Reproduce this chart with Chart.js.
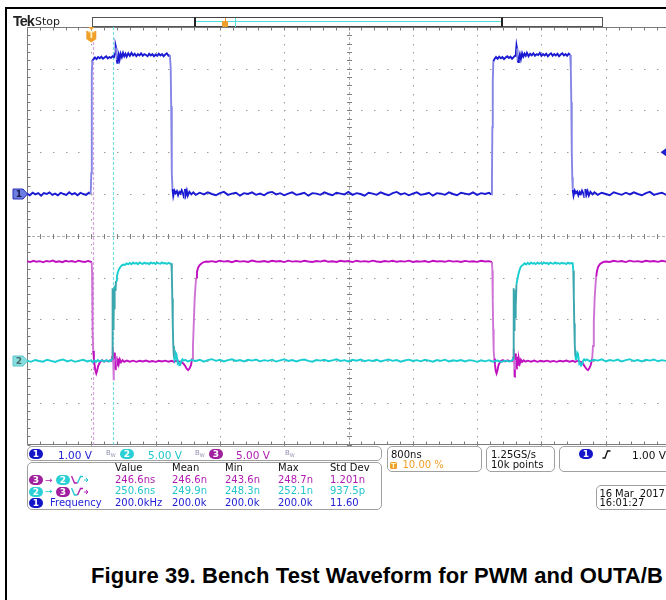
<!DOCTYPE html>
<html><head><meta charset="utf-8">
<script src="https://cdn.jsdelivr.net/npm/chart.js@4.4.1/dist/chart.umd.min.js"></script>
<style>
html,body{margin:0;padding:0;width:666px;height:600px;overflow:hidden;background:#fff;}
#wrap{position:absolute;left:0;top:0;width:690px;height:452px;z-index:1;}
.t{position:absolute;font-family:"DejaVu Sans",sans-serif;font-size:10px;line-height:12px;white-space:nowrap;z-index:2;}
.box{position:absolute;border:1px solid #a0a0a0;border-radius:5px;box-sizing:border-box;z-index:2;}
.pill{position:absolute;width:14px;height:10px;border-radius:5px;color:#fff;font:bold 9px/10px "DejaVu Sans",sans-serif;text-align:center;z-index:3;}
.bw{position:absolute;font:7px/8px "DejaVu Sans",sans-serif;color:#9090b0;z-index:2;}
.ln{position:absolute;background:#000;z-index:4;}
.blu{color:#2222d4}.cya{color:#22c6cc}.mag{color:#b01cb0}.blk{color:#111}.org{color:#f0a028}
</style></head>
<body>
<div class="ln" style="left:5px;top:7px;width:661px;height:2px;"></div>
<div class="ln" style="left:5px;top:8px;width:1.5px;height:592px;"></div>

<div style="position:absolute;left:13px;top:13px;font:bold 14.5px/16px 'Liberation Sans',sans-serif;letter-spacing:-1px;color:#222;z-index:2;">Tek</div>
<div style="position:absolute;left:35px;top:15.4px;font:11px/13px 'DejaVu Sans',sans-serif;color:#222;z-index:2;">Stop</div>

<!-- record overview -->
<div style="position:absolute;left:92px;top:17px;width:511px;height:10px;border:1px solid #555;box-sizing:border-box;background:#fff;z-index:2;"></div>
<div style="position:absolute;left:194px;top:17px;width:309px;height:10px;border:1px solid #444;border-left:2px solid #222;border-right:2px solid #222;box-sizing:border-box;z-index:3;"></div>
<div style="position:absolute;left:196px;top:21px;width:305px;height:1px;background:#55dede;z-index:3;"></div>
<div style="position:absolute;left:235px;top:18px;width:1px;height:9px;background:#55dede;z-index:3;"></div>
<div style="position:absolute;left:222px;top:21px;width:6px;height:6px;background:#f0a028;border-radius:1px;z-index:4;"></div>
<div style="position:absolute;left:224.5px;top:18px;width:1px;height:3px;background:#f0a028;z-index:4;"></div>

<div id="wrap"><canvas id="c" width="690" height="452"></canvas></div>

<!-- channel row -->
<div class="box" style="left:27px;top:446px;width:355px;height:15px;"></div>
<div class="pill" style="left:29px;top:449px;background:#1414c8;">1</div>
<div class="t blu" style="left:58px;top:449px;font-size:10.5px;">1.00 V</div>
<div class="bw" style="left:106px;top:449px;">B<sub style="font-size:5px">W</sub></div>
<div class="pill" style="left:120px;top:449px;background:#2ad0d6;">2</div>
<div class="t cya" style="left:148px;top:449px;font-size:10.5px;">5.00 V</div>
<div class="bw" style="left:195px;top:449px;">B<sub style="font-size:5px">W</sub></div>
<div class="pill" style="left:209px;top:449px;background:#a0209f;">3</div>
<div class="t mag" style="left:236px;top:449px;font-size:10.5px;">5.00 V</div>
<div class="bw" style="left:285px;top:449px;">B<sub style="font-size:5px">W</sub></div>

<!-- measurements -->
<div class="box" style="left:27px;top:462px;width:355px;height:48px;"></div>
<div class="t blk" style="left:115px;top:462.2px;">Value</div>
<div class="t blk" style="left:172px;top:462.2px;">Mean</div>
<div class="t blk" style="left:225px;top:462.2px;">Min</div>
<div class="t blk" style="left:278px;top:462.2px;">Max</div>
<div class="t blk" style="left:330px;top:462.2px;">Std Dev</div>

<div class="pill" style="left:29px;top:475px;background:#a0209f;">3</div>
<div class="t mag" style="left:45px;top:473.6px;font-size:9px;">→</div>
<div class="pill" style="left:56px;top:475px;background:#2ad0d6;">2</div>
<svg style="position:absolute;left:71px;top:475px;z-index:3" width="18" height="10"><path d="M0.5,1 L3.5,8 L6.5,8" stroke="#b01cb0" stroke-width="1.4" fill="none"/><path d="M6.5,8 L9.5,1.5 L12,1.5" stroke="#22c6cc" stroke-width="1.4" fill="none"/><path d="M13,5 L17,5 M15,3 L17,5 L15,7" stroke="#22c6cc" stroke-width="1" fill="none"/></svg>
<div class="t mag" style="left:115px;top:473.9px;">246.6ns</div>
<div class="t mag" style="left:172px;top:473.9px;">246.6n</div>
<div class="t mag" style="left:225px;top:473.9px;">243.6n</div>
<div class="t mag" style="left:278px;top:473.9px;">248.7n</div>
<div class="t mag" style="left:330px;top:473.9px;">1.201n</div>

<div class="pill" style="left:29px;top:486.5px;background:#2ad0d6;">2</div>
<div class="t cya" style="left:45px;top:485.1px;font-size:9px;">→</div>
<div class="pill" style="left:56px;top:486.5px;background:#a0209f;">3</div>
<svg style="position:absolute;left:71px;top:486.5px;z-index:3" width="18" height="10"><path d="M0.5,1 L3.5,8 L6.5,8" stroke="#22c6cc" stroke-width="1.4" fill="none"/><path d="M6.5,8 L9.5,1.5 L12,1.5" stroke="#b01cb0" stroke-width="1.4" fill="none"/><path d="M13,5 L17,5 M15,3 L17,5 L15,7" stroke="#b01cb0" stroke-width="1" fill="none"/></svg>
<div class="t cya" style="left:115px;top:485.4px;">250.6ns</div>
<div class="t cya" style="left:172px;top:485.4px;">249.9n</div>
<div class="t cya" style="left:225px;top:485.4px;">248.3n</div>
<div class="t cya" style="left:278px;top:485.4px;">252.1n</div>
<div class="t cya" style="left:330px;top:485.4px;">937.5p</div>

<div class="pill" style="left:29px;top:497.8px;background:#1414c8;">1</div>
<div class="t blu" style="left:50px;top:496.7px;">Frequency</div>
<div class="t blu" style="left:115px;top:496.7px;">200.0kHz</div>
<div class="t blu" style="left:172px;top:496.7px;">200.0k</div>
<div class="t blu" style="left:225px;top:496.7px;">200.0k</div>
<div class="t blu" style="left:278px;top:496.7px;">200.0k</div>
<div class="t blu" style="left:330px;top:496.7px;">11.60</div>

<!-- timebase / acquisition / trigger -->
<div class="box" style="left:387px;top:446px;width:95px;height:26px;"></div>
<div class="t blk" style="left:391px;top:448.9px;">800ns</div>
<div style="position:absolute;left:390px;top:461.5px;width:7px;height:7.5px;background:#f0a028;border-radius:1.5px;color:#fff3c8;font:bold 7px/8px 'DejaVu Sans',sans-serif;text-align:center;z-index:3;">T</div>
<div class="t org" style="left:402.5px;top:459.2px;">10.00 %</div>

<div class="box" style="left:486px;top:446px;width:69px;height:26px;"></div>
<div class="t blk" style="left:491px;top:448.9px;">1.25GS/s</div>
<div class="t blk" style="left:491px;top:459.2px;">10k points</div>

<div class="box" style="left:559px;top:446px;width:120px;height:26px;"></div>
<div class="pill" style="left:579px;top:449px;background:#1414c8;">1</div>
<svg style="position:absolute;left:602px;top:450px;z-index:3" width="9" height="9"><path d="M0.5,8 L3,8 L5.5,1 L8.5,1" stroke="#111" stroke-width="1.3" fill="none"/></svg>
<div class="t blk" style="left:632px;top:449px;font-size:10.5px;">1.00 V</div>

<div class="box" style="left:596px;top:485px;width:80px;height:24.5px;"></div>
<div class="t blk" style="left:599.5px;top:487.5px;letter-spacing:-0.1px;">16 Mar&nbsp; 2017</div>
<div class="t blk" style="left:599.5px;top:496.9px;">16:01:27</div>

<div style="position:absolute;left:91px;top:563px;font:bold 22px/26px 'Liberation Sans',Arial,sans-serif;letter-spacing:0.08px;color:#000;white-space:nowrap;">Figure 39. Bench Test Waveform for PWM and OUTA/B</div>

<script>
// ---- scope settings ----
const timePerDivNs = 800;
const timeStartNs = -800;
const timeEndNs = 7200;
const voltsPerDiv = [1.0, 5.0, 5.0];     // CH1, CH2, CH3
const groundDiv = [1, -3, -3];           // ground marker offsets (divisions)
const triggerLevelV = 1.0;               // CH1 trigger level
const cursorTimesNs = [17, 266];         // measurement edge cursors (CH3 fall, CH2 rise)

// ---- CH1 (PWM input) [time ns, volts] ----
const ch1 = [
[-800,0.01],[-765,-0.03],[-730,0.03],[-695,-0.01],[-660,0.02],[-625,-0.04],[-590,0.02],[-555,0.00],[-520,0.04],[-485,-0.02],[-450,0.01],[-415,-0.03],[-380,0.03],[-345,0.00],[-310,-0.02],[-275,0.04],[-240,-0.01],[-205,0.02],[-170,-0.03],[-135,0.03],[-100,0.00],[-65,-0.02],[-30,0.03],[-8,0.00],
[0,0.5],[4,1.8],[8,2.9],[13,3.2],
[25,3.22],[45,3.27],[65,3.23],[85,3.28],[105,3.25],[125,3.29],[145,3.24],[165,3.27],[185,3.30],[205,3.25],[225,3.28],[245,3.26],[265,3.30],[282,3.28],
[295,3.36],[303,3.55],[309,3.50],[316,3.22],[323,3.14],[330,3.24],[340,3.34],[352,3.22],[365,3.36],[380,3.28],[395,3.38],[410,3.30],[425,3.36],[440,3.29],[460,3.37],[480,3.31],[500,3.38],[520,3.32],[540,3.36],[560,3.30],[580,3.35],[600,3.32],[620,3.37],[640,3.31],[660,3.35],[680,3.33],[700,3.30],[720,3.36],[740,3.32],[760,3.35],[780,3.30],[800,3.34],[820,3.31],[840,3.36],[860,3.32],[880,3.35],[900,3.30],[920,3.34],[940,3.37],[960,3.31],[978,3.33],
[988,3.0],[994,2.1],[999,1.2],[1004,0.5],[1010,0.12],[1020,-0.05],[1035,0.08],[1050,0.02],[1065,0.07],[1080,-0.03],[1095,0.05],[1110,0.01],[1125,0.09],[1140,0.03],[1155,-0.10],[1165,0.12],[1175,-0.02],[1188,0.08],[1200,-0.04],[1220,0.05],[1245,-0.01],[1270,0.04],
[1300,-0.02],[1350,0.03],[1400,-0.01],[1450,0.04],[1500,0.00],[1550,-0.03],[1600,0.02],[1650,0.05],[1700,-0.02],[1750,0.01],[1800,0.03],[1850,-0.04],[1900,0.02],[1950,0.00],[2000,0.04],[2050,-0.02],[2100,0.01],[2150,-0.03],[2200,0.03],[2250,0.05],[2300,-0.01],[2350,0.02],[2400,-0.03],[2450,0.01],[2500,0.04],[2550,-0.02],[2600,0.00],[2650,0.03],[2700,-0.04],[2750,0.02],[2800,0.01],[2850,-0.02],[2900,0.04],[2950,0.00],[3000,-0.03],[3050,0.03],[3100,0.01],[3150,-0.01],[3200,0.05],[3250,-0.02],[3300,0.02],[3350,0.00],[3400,-0.04],[3450,0.03],[3500,0.01],[3550,-0.02],[3600,0.04],[3650,0.00],[3700,-0.03],[3750,0.02],[3800,0.05],[3850,-0.01],[3900,0.02],[3950,-0.03],[4000,0.01],[4050,0.04],[4100,-0.02],[4150,0.00],[4200,0.03],[4250,-0.04],[4300,0.02],[4350,0.01],[4400,-0.02],[4450,0.04],[4500,0.00],[4550,-0.03],[4600,0.03],[4650,0.01],[4700,-0.01],[4750,0.04],[4800,-0.02],[4850,0.02],[4900,0.00],[4950,0.03],[4975,-0.01],
[4985,0.4],[4990,1.6],[4995,2.7],[5002,3.18],
[5015,3.23],[5035,3.28],[5055,3.24],[5075,3.29],[5095,3.25],[5115,3.28],[5135,3.23],[5155,3.27],[5175,3.30],[5195,3.26],[5215,3.29],[5235,3.24],[5255,3.28],[5272,3.31],
[5283,3.40],[5290,3.56],[5297,3.48],[5304,3.20],[5312,3.16],[5320,3.26],[5332,3.35],[5345,3.23],[5360,3.37],[5375,3.29],[5390,3.36],[5405,3.31],[5420,3.38],[5440,3.30],[5460,3.36],[5480,3.32],[5500,3.37],[5520,3.31],[5540,3.35],[5560,3.33],[5580,3.38],[5600,3.31],[5620,3.35],[5640,3.32],[5660,3.36],[5680,3.30],[5700,3.34],[5720,3.37],[5740,3.31],[5760,3.35],[5780,3.32],[5800,3.36],[5820,3.30],[5840,3.34],[5860,3.37],[5880,3.32],[5900,3.35],[5920,3.31],[5940,3.36],[5958,3.33],
[5966,3.0],[5972,2.2],[5978,1.0],[5984,0.4],[5990,0.1],[6000,-0.04],[6015,0.08],[6030,0.02],[6045,0.06],[6060,-0.03],[6075,0.05],[6090,0.00],[6105,0.08],[6120,0.02],[6135,-0.09],[6148,0.12],[6160,-0.02],[6175,0.07],[6190,-0.04],[6210,0.05],[6235,-0.01],[6260,0.04],
[6300,-0.02],[6350,0.03],[6400,0.00],[6450,-0.03],[6500,0.04],[6550,0.01],[6600,-0.02],[6650,0.03],[6700,-0.01],[6750,0.04],[6800,0.00],[6850,-0.03],[6900,0.02],[6950,0.05],[7000,-0.02],[7050,0.01],[7100,0.03],[7150,-0.02],[7200,0.01]
];

// ---- CH2 (OUTA) [time ns, volts] ----
const ch2 = [
[-800,0.05],[-750,-0.10],[-700,0.12],[-650,0.00],[-600,-0.08],[-550,0.15],[-500,0.02],[-450,-0.12],[-400,0.08],[-350,0.18],[-300,-0.05],[-250,0.10],[-200,-0.10],[-150,0.05],[-100,0.14],[-50,-0.06],[0,0.08],[20,-0.15],[40,0.05],[60,-0.10],[80,0.12],[100,-0.04],[130,0.09],[160,-0.08],[190,0.10],[220,-0.05],[245,0.06],
[258,0.3],[262,5.5],[265,8.7],[268,4.2],[271,8.3],[274,3.7],[277,7.6],[280,4.8],[284,8.6],[288,6.2],[293,9.0],[300,8.4],[308,9.6],[318,10.1],[330,10.6],[345,11.0],[360,11.25],[380,11.45],[400,11.55],[420,11.5],[440,11.7],[460,11.6],[480,11.75],[500,11.6],
[520,11.8],[540,11.65],[560,11.75],[580,11.6],[600,11.8],[620,11.7],[640,11.62],[660,11.78],[680,11.66],[700,11.74],[720,11.6],[740,11.8],[760,11.68],[780,11.75],[800,11.62],[820,11.78],[840,11.7],[860,11.64],[880,11.8],[900,11.68],[920,11.74],[940,11.62],[960,11.76],[980,11.66],[996,11.7],
[1002,10.5],[1008,7.5],[1014,4.2],[1020,1.8],[1028,0.5],[1036,0.1],[1044,0.4],[1052,0.95],[1060,0.8],[1068,0.2],[1076,-0.3],[1086,-0.2],[1096,-0.5],[1108,-0.45],[1120,0.0],[1135,0.2],[1150,0.05],[1170,0.15],
[1200,-0.05],[1250,0.12],[1300,0.0],[1350,0.15],[1400,-0.08],[1450,0.10],[1500,0.22],[1550,0.02],[1600,0.14],[1650,-0.06],[1700,0.10],[1750,0.20],[1800,0.00],[1850,0.12],[1900,-0.05],[1950,0.15],[2000,0.05],[2050,0.18],[2100,-0.04],[2150,0.10],[2200,0.02],[2250,0.16],[2300,-0.07],[2350,0.08],[2400,0.20],[2450,0.00],[2500,0.12],[2550,-0.05],[2600,0.10],[2650,0.18],[2700,0.02],[2750,-0.08],[2800,0.12],[2850,0.05],[2900,0.15],[2950,-0.03],[3000,0.08],[3050,0.20],[3100,0.00],[3150,0.10],[3200,-0.06],[3250,0.14],[3300,0.04],[3350,0.18],[3400,-0.02],[3450,0.10],[3500,0.00],[3550,0.15],[3600,-0.05],[3650,0.08],[3700,0.18],[3750,0.02],[3800,0.12],[3850,-0.08],[3900,0.06],[3950,0.16],[4000,0.00],[4050,0.10],[4100,-0.04],[4150,0.14],[4200,0.05],[4250,-0.08],[4300,0.12],[4350,0.02],[4400,0.16],[4450,-0.05],[4500,0.08],[4550,0.00],[4600,0.12],[4650,-0.06],[4700,0.10],[4750,0.04],[4800,-0.10],[4850,0.08],[4900,-0.04],[4950,0.10],[5000,-0.08],[5050,0.06],[5100,-0.12],[5150,0.04],[5200,-0.06],[5240,0.08],
[5250,0.4],[5254,5.0],[5257,8.7],[5260,4.0],[5263,8.0],[5266,3.6],[5270,7.8],[5274,5.2],[5278,8.5],[5283,6.5],[5290,9.2],[5300,9.7],[5312,10.3],[5325,10.8],[5340,11.2],[5355,11.4],[5370,11.5],[5390,11.7],[5410,11.55],[5430,11.75],[5450,11.6],[5470,11.8],[5490,11.65],[5510,11.72],[5530,11.6],[5550,11.78],[5570,11.66],[5590,11.74],[5610,11.62],[5630,11.8],[5650,11.68],[5670,11.75],[5690,11.6],[5710,11.78],[5730,11.7],[5750,11.64],[5770,11.8],[5790,11.66],[5810,11.74],[5830,11.62],[5850,11.76],[5870,11.68],[5890,11.72],[5910,11.6],[5930,11.78],[5950,11.66],[5970,11.74],[5990,11.7],
[5997,10.8],[6003,7.8],[6009,4.5],[6015,2.0],[6022,0.6],[6030,0.1],[6038,0.5],[6046,1.0],[6055,0.85],[6064,0.2],[6072,-0.35],[6082,-0.25],[6094,-0.55],[6106,-0.4],[6118,0.0],[6132,0.2],[6148,0.05],[6165,0.18],
[6200,-0.02],[6250,0.15],[6300,0.05],[6350,0.20],[6400,-0.04],[6450,0.12],[6500,0.02],[6550,0.18],[6600,-0.06],[6650,0.10],[6700,0.22],[6750,0.00],[6800,0.12],[6850,-0.05],[6900,0.15],[6950,0.05],[7000,0.18],[7050,-0.03],[7100,0.10],[7150,0.02],[7200,0.14]
];

// ---- CH3 (OUTB) [time ns, volts] ----
const ch3 = [
[-800,11.95],[-760,11.85],[-720,12.0],[-680,11.88],[-640,11.96],[-600,11.82],[-560,11.98],[-520,11.9],[-480,12.02],[-440,11.86],[-400,11.95],[-360,11.84],[-320,12.0],[-280,11.9],[-240,11.97],[-200,11.85],[-160,12.02],[-120,11.92],[-80,11.86],[-40,11.98],[-10,11.9],[5,11.8],
[10,10.5],[14,7.0],[18,3.5],[24,1.2],[32,0.3],[40,-0.4],[50,-1.1],[62,-1.5],[72,-1.2],[85,-0.6],[100,-0.3],[115,-0.05],[135,0.1],[160,-0.08],[185,0.06],[210,-0.05],[235,0.08],[255,0.0],
[262,0.6],[268,1.7],[272,0.5],[277,-2.3],[282,-1.2],[287,1.0],[293,0.2],[298,-1.0],[305,-0.2],[312,0.6],[320,-0.5],[330,0.3],[342,-0.35],[355,0.2],[370,-0.15],[390,0.1],[410,-0.1],
[440,0.05],[480,-0.08],[520,0.04],[560,-0.1],[600,0.02],[640,-0.06],[680,0.05],[720,-0.08],[760,0.0],[800,-0.1],[840,0.03],[880,-0.06],[920,0.04],[960,-0.08],[1000,0.02],[1030,-0.1],[1060,0.05],[1090,-0.04],[1120,-0.12],[1145,-0.3],[1165,-0.55],[1185,-0.9],[1205,-1.1],[1222,-0.9],[1240,-0.5],[1255,0.3],
[1265,1.8],[1275,4.5],[1285,7.2],[1295,8.8],[1305,10.0],[1315,10.7],[1330,11.2],[1350,11.5],[1375,11.7],[1400,11.85],[1430,11.92],[1460,11.88],
[1500,11.96],[1550,11.86],[1600,12.02],[1650,11.9],[1700,11.98],[1750,11.84],[1800,12.0],[1850,11.9],[1900,11.96],[1950,11.86],[2000,12.03],[2050,11.92],[2100,11.88],[2150,11.98],[2200,11.86],[2250,12.0],[2300,11.92],[2350,11.97],[2400,11.85],[2450,12.02],[2500,11.9],[2550,11.96],[2600,11.88],[2650,12.0],[2700,11.92],[2750,11.86],[2800,11.98],[2850,11.9],[2900,12.03],[2950,11.88],[3000,11.95],[3050,11.86],[3100,12.0],[3150,11.92],[3200,11.97],[3250,11.85],[3300,12.01],[3350,11.9],[3400,11.96],[3450,11.88],[3500,12.02],[3550,11.92],[3600,11.86],[3650,11.98],[3700,11.9],[3750,12.0],[3800,11.88],[3850,11.96],[3900,11.9],[3950,12.02],[4000,11.86],[4050,11.95],[4100,11.9],[4150,11.98],[4200,11.85],[4250,12.0],[4300,11.92],[4350,11.96],[4400,11.88],[4450,12.02],[4500,11.9],[4550,11.96],[4600,11.86],[4650,11.99],[4700,11.9],[4750,11.95],[4800,11.87],[4850,12.0],[4900,11.92],[4950,11.96],[4985,11.85],
[4990,10.8],[4995,7.2],[5000,3.8],[5006,1.3],[5014,0.3],[5022,-0.4],[5032,-1.2],[5042,-1.5],[5054,-1.1],[5066,-0.5],[5080,-0.25],[5095,0.0],[5120,0.1],[5150,-0.06],[5180,0.08],[5210,-0.04],[5235,0.06],[5245,0.0],
[5250,0.5],[5256,1.5],[5260,0.4],[5265,-1.9],[5270,-1.0],[5276,0.9],[5282,0.1],[5288,-0.9],[5295,-0.2],[5302,0.5],[5310,-0.45],[5320,0.25],[5332,-0.3],[5345,0.15],[5360,-0.12],[5380,0.08],[5400,-0.08],
[5430,0.04],[5470,-0.08],[5510,0.05],[5550,-0.1],[5590,0.02],[5630,-0.06],[5670,0.04],[5710,-0.08],[5750,0.01],[5790,-0.1],[5830,0.03],[5870,-0.06],[5910,0.05],[5950,-0.08],[5990,0.02],[6020,-0.1],[6050,0.04],[6075,-0.05],[6100,-0.15],[6120,-0.35],[6140,-0.65],[6160,-0.95],[6180,-1.1],[6198,-0.85],[6215,-0.45],[6232,0.3],
[6242,1.8],[6252,4.6],[6262,7.4],[6272,9.0],[6282,10.1],[6292,10.8],[6307,11.3],[6327,11.6],[6350,11.75],[6375,11.88],[6400,11.92],
[6450,11.86],[6500,12.0],[6550,11.9],[6600,11.97],[6650,11.85],[6700,12.02],[6750,11.9],[6800,11.96],[6850,11.86],[6900,12.0],[6950,11.92],[7000,11.97],[7050,11.87],[7100,12.01],[7150,11.9],[7200,11.96]
];

const chColors = ['#1a1ad2', '#19cdd0', '#c010c0'];
const chEdgeColors = ['#8585e6', '#3aa6ae', '#cf72d6'];

function toPoints(arr, ch) {
  return arr.map(p => ({ x: p[0], y: groundDiv[ch] + p[1] / voltsPerDiv[ch] }));
}
function mkDataset(arr, ch) {
  return {
    data: toPoints(arr, ch),
    borderColor: chColors[ch],
    borderWidth: 1.9,
    pointRadius: 0,
    tension: 0,
    fill: false,
    segment: {
      borderColor: c => {
        const dy = Math.abs(c.p1.y - c.p0.y), dx = Math.abs(c.p1.x - c.p0.x);
        return (dy > 8 && dy > 2.5 * dx) ? chEdgeColors[ch] : undefined;
      }
    }
  };
}

const graticule = {
  id: 'graticule',
  beforeDatasetsDraw(chart) {
    const { ctx, chartArea: a, scales: { x, y } } = chart;
    const px = v => x.getPixelForValue(v);
    const py = v => y.getPixelForValue(v);
    ctx.save();
    // dotted major grid lines
    ctx.fillStyle = '#9c9c9c';
    for (let i = 1; i < 10; i++) {
      if (i === 5) continue;
      const X = Math.round(px(timeStartNs + i * timePerDivNs));
      for (let j = 0; j <= 50; j++) ctx.fillRect(X, Math.round(py(-5 + j * 0.2)), 1, 1.5);
    }
    for (let j = 1; j < 10; j++) {
      if (j === 5) continue;
      const Y = Math.round(py(-5 + j));
      for (let i = 0; i <= 50; i++) ctx.fillRect(Math.round(px(timeStartNs + i * timePerDivNs / 5)), Y, 1.5, 1);
    }
    // center cross with ticks
    ctx.strokeStyle = '#b0b0b0'; ctx.lineWidth = 1;
    ctx.setLineDash([3, 2]);
    const cx = Math.round(px(timeStartNs + 5 * timePerDivNs)) + 0.5;
    const cy = Math.round(py(0)) + 0.5;
    ctx.beginPath(); ctx.moveTo(a.left, cy); ctx.lineTo(a.right, cy); ctx.moveTo(cx, a.top); ctx.lineTo(cx, a.bottom); ctx.stroke();
    ctx.setLineDash([]);
    ctx.strokeStyle = '#808080';
    ctx.beginPath();
    for (let i = 0; i <= 50; i++) { const X = Math.round(px(timeStartNs + i * timePerDivNs / 5)) + 0.5; ctx.moveTo(X, cy - 2.5); ctx.lineTo(X, cy + 2.5); }
    for (let j = 0; j <= 50; j++) { const Y = Math.round(py(-5 + j * 0.2)) + 0.5; ctx.moveTo(cx - 2.5, Y); ctx.lineTo(cx + 2.5, Y); }
    ctx.stroke();
    // border with ticks
    ctx.strokeStyle = '#7a7a7a';
    const L = Math.round(a.left) + 0.5, T = Math.round(a.top) + 0.5, B = Math.round(a.bottom) - 0.5;
    ctx.beginPath();
    ctx.moveTo(L, T); ctx.lineTo(a.right, T);
    ctx.moveTo(L, B); ctx.lineTo(a.right, B);
    ctx.moveTo(L, T); ctx.lineTo(L, B);
    for (let i = 0; i <= 50; i++) {
      const X = Math.round(px(timeStartNs + i * timePerDivNs / 5)) + 0.5;
      ctx.moveTo(X, T); ctx.lineTo(X, T + 3);
      ctx.moveTo(X, B); ctx.lineTo(X, B - 3);
    }
    for (let j = 0; j <= 50; j++) { const Y = Math.round(py(-5 + j * 0.2)) + 0.5; ctx.moveTo(L, Y); ctx.lineTo(L + 3, Y); }
    ctx.stroke();
    // measurement cursors
    ctx.lineWidth = 1.2;
    ctx.setLineDash([3, 2]);
    ctx.strokeStyle = '#d8a4e2';
    let X = Math.round(px(cursorTimesNs[0])) + 0.5;
    ctx.beginPath(); ctx.moveTo(X, a.top + 15); ctx.lineTo(X, a.bottom); ctx.stroke();
    ctx.strokeStyle = '#74e0e2';
    X = Math.round(px(cursorTimesNs[1])) + 0.5;
    ctx.beginPath(); ctx.moveTo(X, a.top); ctx.lineTo(X, a.bottom); ctx.stroke();
    ctx.restore();
  },
  afterDraw(chart) {
    const { ctx, chartArea: a, scales: { x, y } } = chart;
    ctx.save();
    // ground markers
    const marker = (Y, fill, stroke, txtCol, label) => {
      ctx.beginPath();
      ctx.moveTo(13, Y - 5); ctx.lineTo(23, Y - 5); ctx.lineTo(27.5, Y); ctx.lineTo(23, Y + 5); ctx.lineTo(13, Y + 5); ctx.closePath();
      ctx.fillStyle = fill; ctx.fill();
      ctx.strokeStyle = stroke; ctx.lineWidth = 1; ctx.stroke();
      ctx.fillStyle = txtCol; ctx.font = 'bold 9px "DejaVu Sans"'; ctx.textAlign = 'center'; ctx.textBaseline = 'middle';
      ctx.fillText(label, 19, Y + 0.5);
    };
    marker(y.getPixelForValue(groundDiv[1]), '#86dede', '#5cc8cc', '#4a6a6a', '2');
    marker(y.getPixelForValue(groundDiv[0]), '#6c7ee2', '#2a30b8', '#1a1a50', '1');
    // trigger position marker
    const tx = x.getPixelForValue(0);
    ctx.fillStyle = '#f0a028';
    ctx.beginPath(); ctx.moveTo(tx - 3, a.top); ctx.lineTo(tx + 3, a.top); ctx.lineTo(tx, a.top + 3); ctx.closePath(); ctx.fill();
    ctx.beginPath();
    ctx.moveTo(tx - 5, a.top + 4); ctx.lineTo(tx + 5, a.top + 4); ctx.lineTo(tx + 5, a.top + 12); ctx.lineTo(tx, a.top + 15.5); ctx.lineTo(tx - 5, a.top + 12); ctx.closePath(); ctx.fill();
    ctx.fillStyle = '#fff0c0'; ctx.font = 'bold 9px "DejaVu Sans"'; ctx.textAlign = 'center'; ctx.textBaseline = 'middle';
    ctx.fillText('T', tx, a.top + 8.5);
    // trigger level indicator (right edge)
    const ty = y.getPixelForValue(groundDiv[0] + triggerLevelV / voltsPerDiv[0]);
    ctx.fillStyle = '#2020d0';
    ctx.beginPath(); ctx.moveTo(660.5, ty); ctx.lineTo(666, ty - 4); ctx.lineTo(666, ty + 4); ctx.closePath(); ctx.fill();
    ctx.restore();
  }
};

new Chart(document.getElementById('c'), {
  type: 'line',
  data: { datasets: [mkDataset(ch2, 1), mkDataset(ch3, 2), mkDataset(ch1, 0)] },
  options: {
    responsive: false,
    animation: false,
    events: [],
    layout: { padding: { left: 27, top: 27, right: 20, bottom: 7.5 } },
    plugins: { legend: { display: false }, tooltip: { enabled: false } },
    scales: {
      x: { type: 'linear', min: timeStartNs, max: timeEndNs, display: false },
      y: { type: 'linear', min: -5, max: 5, display: false }
    }
  },
  plugins: [graticule]
});
</script>
</body></html>
